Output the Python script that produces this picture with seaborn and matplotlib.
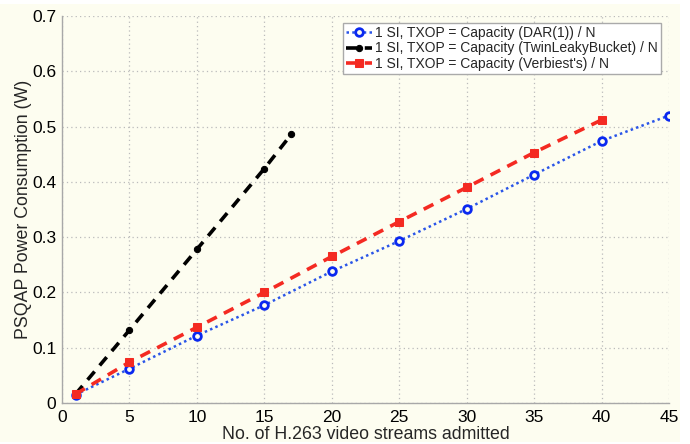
import matplotlib
matplotlib.use("Agg")
import matplotlib.pyplot as plt
import matplotlib.patches as mpatches
from matplotlib.ticker import FuncFormatter
import seaborn as sns
import pandas as pd

# Data
x_dar = [1, 5, 10, 15, 20, 25, 30, 35, 40, 45]
y_dar = [0.015, 0.062, 0.122, 0.177, 0.238, 0.293, 0.351, 0.413, 0.474, 0.520]
x_twin = [1, 5, 10, 15, 17]
y_twin = [0.016, 0.132, 0.278, 0.424, 0.486]
x_verb = [1, 5, 10, 15, 20, 25, 30, 35, 40]
y_verb = [0.016, 0.074, 0.137, 0.200, 0.265, 0.328, 0.390, 0.453, 0.512]
labels = ["1 SI, TXOP = Capacity (DAR(1)) / N",
          "1 SI, TXOP = Capacity (TwinLeakyBucket) / N",
          "1 SI, TXOP = Capacity (Verbiest's) / N"]
xticks = [0, 5, 10, 15, 20, 25, 30, 35, 40, 45]
yticks = [0, 0.1, 0.2, 0.3, 0.4, 0.5, 0.6, 0.7]

sns.set_style("white")
plt.rcParams['font.family'] = ['Liberation Sans', 'DejaVu Sans']

cream = "#fdfdf0"
fig = plt.figure(figsize=(6.9, 4.44), dpi=100, facecolor="white")
fig.patches.append(mpatches.Rectangle((0, 0.005), 0.985, 0.985, transform=fig.transFigure,
                                      facecolor=cream, edgecolor="none", zorder=-10))
ax = fig.add_axes([0.0899, 0.0923, 0.8797, 0.8717])
ax.set_facecolor(cream)

df_dar = pd.DataFrame({"x": x_dar, "y": y_dar})
df_twin = pd.DataFrame({"x": x_twin, "y": y_twin})
df_verb = pd.DataFrame({"x": x_verb, "y": y_verb})

sns.lineplot(data=df_dar, x="x", y="y", ax=ax, color="#2a55e8", linestyle=(0, (1, 1.3)), linewidth=1.8,
             marker="o", markersize=5.5, markerfacecolor="#fdfdf0", markeredgecolor="#0a28f0",
             markeredgewidth=2, label=labels[0])
sns.lineplot(data=df_twin, x="x", y="y", ax=ax, color="black", linestyle=(0, (3, 2.2)), linewidth=2.6,
             marker="o", markersize=4.5, markerfacecolor="black", markeredgecolor="black",
             label=labels[1])
sns.lineplot(data=df_verb, x="x", y="y", ax=ax, color="#f42a22", linestyle=(0, (3, 2.2)), linewidth=2.6,
             marker="s", markersize=6, markerfacecolor="#f42a22", markeredgecolor="#f42a22",
             label=labels[2])

ax.set_xlim(0, 45)
ax.set_ylim(0, 0.7)
ax.set_xticks(xticks)
ax.set_yticks(yticks)
ax.yaxis.set_major_formatter(FuncFormatter(lambda v, p: f"{v:g}"))
ax.tick_params(axis="both", direction="in", length=4, color="#999999", labelsize=12.5,
               labelcolor="black", pad=4)
ax.tick_params(axis="x", pad=5)
ax.grid(True, color="#bbbbbb", linestyle=(0, (1, 2.5)), linewidth=0.9)
for s in ["top", "right"]:
    ax.spines[s].set_visible(False)
for s in ["left", "bottom"]:
    ax.spines[s].set_color("#a8a8a8")
    ax.spines[s].set_linewidth(1.0)

ax.set_xlabel("No. of H.263 video streams admitted", fontsize=12.8, labelpad=1)
ax.set_ylabel("PSQAP Power Consumption (W)", fontsize=12.8, labelpad=0)

leg = ax.legend(loc="upper right", bbox_to_anchor=(0.992, 0.99), fontsize=10, frameon=True,
                fancybox=False, handlelength=1.9, handletextpad=0.2, borderpad=0.25,
                labelspacing=0.1, borderaxespad=0.2)
leg.get_frame().set_edgecolor("#aaaaaa")
leg.get_frame().set_facecolor("white")
leg.get_frame().set_alpha(1)

fig.savefig("out.png", dpi=100, facecolor=fig.get_facecolor())
